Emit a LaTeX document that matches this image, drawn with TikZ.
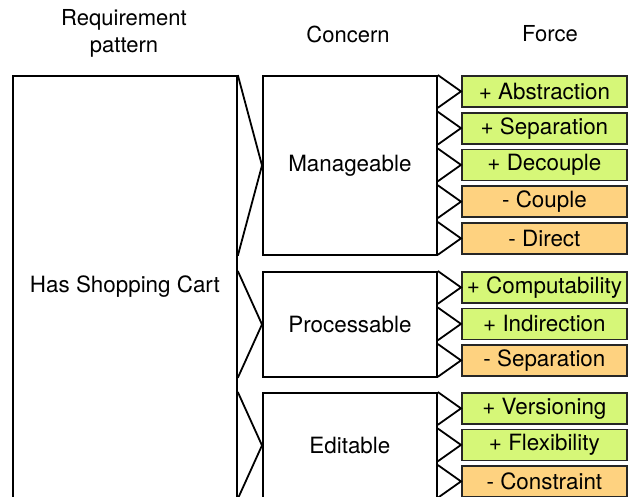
\documentclass[tikz,border=0pt]{standalone}
\usepackage{fontspec}
\setmainfont{TeX Gyre Heros}
\definecolor{forceplus}{RGB}{214,247,120}
\definecolor{forceminus}{RGB}{254,210,128}
\tikzset{
  box/.style={draw=black, line width=1.8pt, inner sep=0pt, anchor=north west,
    font=\fontsize{22.4}{26}\selectfont},
  pattern/.style={box, minimum width=224pt, minimum height=422pt},
  concern/.style={box, minimum width=174pt},
  force/.style={box, draw=black!85, fill=#1, minimum width=165pt, minimum height=31pt},
  head/.style={font=\fontsize{22}{27}\selectfont, align=center},
  link/.style={line width=1.8pt, line join=miter}
}
\begin{document}
\begin{tikzpicture}[x=1pt, y=-1pt]
  \useasboundingbox (0,0) rectangle (628,496);
  \clip (0,0) rectangle (628,496);

  % column headings
  \node[head] (hreq) at (124,33) {Requirement\\pattern};
  \node[head] (hcon) at (348,34) {Concern};
  \node[head] (hfor) at (550,34) {Force};

  % requirement pattern
  \node[pattern] (req) at (12,75) {Has Shopping Cart};

  % concerns
  \node[concern, minimum height=179pt] (man) at (262,75) {Manageable};
  \node[concern, minimum height=105pt] (pro) at (262,271) {Processable};
  \node[concern, minimum height=105pt] (edi) at (262,392) {Editable};

  % forces of Manageable
  \node[force=forceplus]  (f1) at (461,75)    {+ Abstraction};
  \node[force=forceplus]  (f2) at (461,111.75) {+ Separation};
  \node[force=forceplus]  (f3) at (461,148.5) {+ Decouple};
  \node[force=forceminus] (f4) at (461,185.25) {- Couple};
  \node[force=forceminus] (f5) at (461,222)   {- Direct};
  % forces of Processable
  \node[force=forceplus]  (g1) at (461,271)   {+ Computability};
  \node[force=forceplus]  (g2) at (461,307.5) {+ Indirection};
  \node[force=forceminus] (g3) at (461,344)   {- Separation};
  % forces of Editable
  \node[force=forceplus]  (h1) at (461,392)   {+ Versioning};
  \node[force=forceplus]  (h2) at (461,428.5) {+ Flexibility};
  \node[force=forceminus] (h3) at (461,465)   {- Constraint};

  % pattern to concern wedges
  \foreach \c in {man,pro,edi}
    \draw[link] (req.east |- \c.north) -- (\c.west) -- (req.east |- \c.south);

  % concern to force wedges
  \foreach \c/\f in {man/f1,man/f2,man/f3,man/f4,man/f5,pro/g1,pro/g2,pro/g3,edi/h1,edi/h2,edi/h3}
    \draw[link] (\c.east |- \f.north) -- (\f.west) -- (\c.east |- \f.south);
\end{tikzpicture}
\end{document}
